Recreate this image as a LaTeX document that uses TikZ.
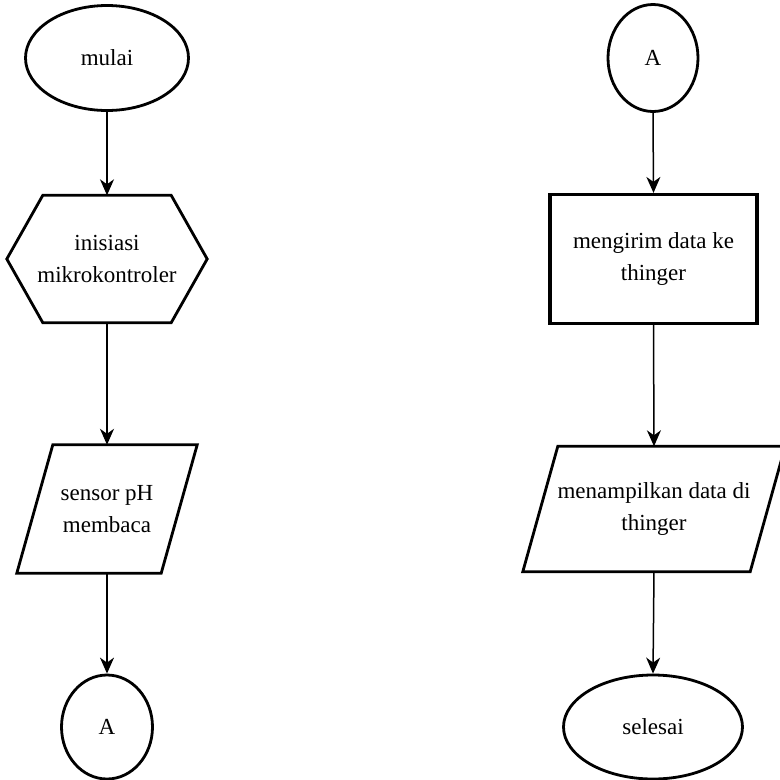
\documentclass[tikz,border=0pt]{standalone}
\usepackage{fontspec}
\setmainfont{Liberation Serif}
\usetikzlibrary{shapes.geometric,arrows.meta}
\begin{document}
\begin{tikzpicture}[x=1pt,y=-1pt,
  txt/.style={font=\fontsize{23}{32}\selectfont, align=center, inner sep=0pt},
  outline/.style={line width=2.8pt, line join=miter},
  term/.style={txt, shape=ellipse, draw, line width=2.8pt},
  conn/.style={line width=1.5pt, -{Stealth[length=16pt,width=14pt,inset=5pt]}}
]
\useasboundingbox (0,0) rectangle (780,780);
\fill[white] (0,0) rectangle (780,780);

% left column
\node[term, minimum width=163pt, minimum height=105pt] (mulai) at (107,58) {mulai};
\node[txt, minimum width=200pt, minimum height=127pt] (init) at (107,259) {inisiasi\\mikrokontroler};
\draw[outline] ([xshift=36pt]init.north west) -- ([xshift=-36pt]init.north east) -- (init.east)
  -- ([xshift=-36pt]init.south east) -- ([xshift=36pt]init.south west) -- (init.west) -- cycle;
\node[txt, minimum width=180pt, minimum height=128pt] (sensor) at (107,509) {sensor pH\\membaca};
\draw[outline] ([xshift=36pt]sensor.north west) -- (sensor.north east)
  -- ([xshift=-36pt]sensor.south east) -- (sensor.south west) -- cycle;
\node[term, minimum width=91pt, minimum height=104pt] (a1) at (107,727) {A};

% right column
\node[term, minimum width=90pt, minimum height=107pt] (a2) at (653,58) {A};
\node[txt, draw, line width=3.2pt, minimum width=207pt, minimum height=129pt] (send) at (653.5,259) {mengirim data ke\\thinger};
\node[txt, minimum width=262pt, minimum height=125pt] (show) at (654,509) {menampilkan data di\\thinger};
\draw[outline] ([xshift=35pt]show.north west) -- (show.north east)
  -- ([xshift=-35pt]show.south east) -- (show.south west) -- cycle;
\node[term, minimum width=179pt, minimum height=104pt] (selesai) at (653,727) {selesai};

% connectors
\draw[conn] (mulai.south) -- (init.north);
\draw[conn] (init.south) -- (sensor.north);
\draw[conn] (sensor.south) -- (a1.north);
\draw[conn] (a2.south) -- (send.north);
\draw[conn] (send.south) -- (show.north);
\draw[conn] (show.south) -- (selesai.north);
\end{tikzpicture}
\end{document}
